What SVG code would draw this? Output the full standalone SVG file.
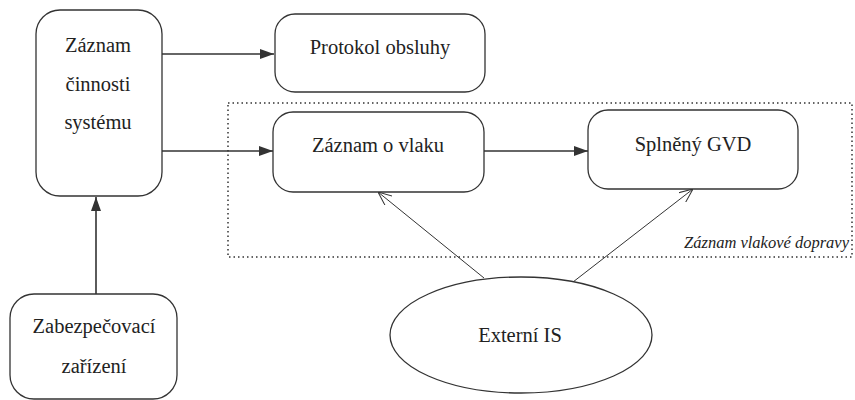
<svg xmlns="http://www.w3.org/2000/svg" width="855" height="400" viewBox="0 0 855 400">
<style>
.box{fill:#fff;stroke:#333;stroke-width:1.3}
.t{font-family:'Times New Roman','Liberation Serif',Times,serif;font-size:20.5px;fill:#222;text-anchor:middle}
.c{stroke:#333;stroke-width:1.6;fill:none}
.thin{stroke:#333;stroke-width:1;fill:none}
</style>
<defs>
<marker id="fa" markerWidth="14" markerHeight="10" refX="14" refY="5" orient="auto" markerUnits="userSpaceOnUse">
<path d="M0,0 L14,5 L0,10 Z" fill="#333"/>
</marker>
<marker id="oa" markerWidth="14" markerHeight="12" refX="14" refY="6" orient="auto" markerUnits="userSpaceOnUse">
<path d="M0,0 L14,6 L0,12" fill="none" stroke="#333" stroke-width="1"/>
</marker>
</defs>
<rect x="0" y="0" width="855" height="400" fill="#fff"/>
<g id="group-zvd">
<rect x="228" y="103" width="624" height="154" fill="none" stroke="#333" stroke-width="1.5" stroke-dasharray="1.5,3"/>
<text x="849" y="248" font-family="'Times New Roman','Liberation Serif',Times,serif" font-style="italic" font-size="16.5" fill="#222" text-anchor="end">Záznam vlakové dopravy</text>
</g>
<g id="connectors">
<line class="c" x1="158" y1="54" x2="274" y2="54" marker-end="url(#fa)"/>
<line class="c" x1="160" y1="151" x2="273" y2="151" marker-end="url(#fa)"/>
<line class="c" x1="484" y1="151" x2="588" y2="151" marker-end="url(#fa)"/>
<line class="c" x1="96" y1="294" x2="96" y2="197" marker-end="url(#fa)"/>
<line class="thin" x1="484" y1="278" x2="378" y2="192" marker-end="url(#oa)"/>
<line class="thin" x1="573" y1="282" x2="693" y2="189" marker-end="url(#oa)"/>
</g>
<g id="zaznam-cinnosti">
<rect class="box" x="36" y="10" width="126" height="186" rx="24"/>
<text class="t" x="98" y="52">Záznam</text>
<text class="t" x="98" y="91">činnosti</text>
<text class="t" x="98" y="129">systému</text>
</g>
<g id="protokol">
<rect class="box" x="275" y="14" width="210" height="78" rx="20"/>
<text class="t" x="380" y="54">Protokol obsluhy</text>
</g>
<g id="zaznam-vlaku">
<rect class="box" x="273" y="112" width="211" height="80" rx="20"/>
<text class="t" x="378" y="152">Záznam o vlaku</text>
</g>
<g id="splneny">
<rect class="box" x="588" y="110" width="210" height="79" rx="20"/>
<text class="t" x="693" y="151">Splněný GVD</text>
</g>
<g id="zabezpecovaci">
<rect class="box" x="10" y="294" width="167" height="105" rx="24"/>
<text class="t" x="94" y="333">Zabezpečovací</text>
<text class="t" x="94" y="373">zařízení</text>
</g>
<g id="externi">
<ellipse class="box" cx="521" cy="335" rx="131" ry="58"/>
<text class="t" x="520" y="342">Externí IS</text>
</g>
</svg>
